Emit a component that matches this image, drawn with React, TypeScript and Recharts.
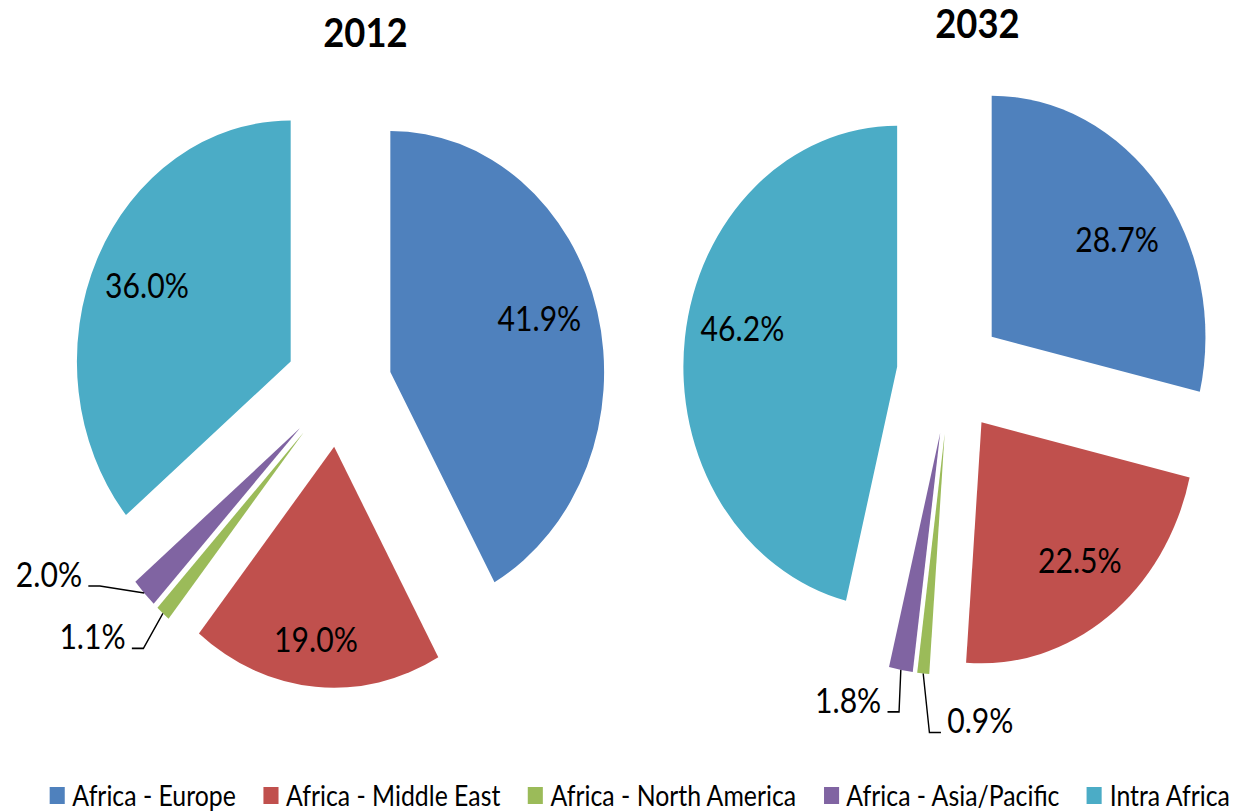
import React from 'react';
import { PieChart, Pie, Cell, Sector, Legend } from 'recharts';

const categories = [
  'Africa - Europe',
  'Africa - Middle East',
  'Africa - North America',
  'Africa - Asia/Pacific',
  'Intra Africa',
];
const values2012 = [41.9, 19.0, 1.1, 2.0, 36.0];
const values2032 = [28.7, 22.5, 0.9, 1.8, 46.2];
const years = ['2012', '2032'];
const colors = ['#4F81BD', '#C0504D', '#9BBB59', '#8064A2', '#4BACC6'];

const data2012 = categories.map((name, i) => ({ name, value: values2012[i] }));
const data2032 = categories.map((name, i) => ({ name, value: values2032[i] }));

// layout / style constants
const SX = 0.887;
const W = 1393;
const H = 811;
const R = 241;
const EXPLODE = 60;
const RAD = Math.PI / 180;
const FONT = 'Lato, "Open Sans", sans-serif';
const LABEL_SIZE = 34;

// leader-line layout for the thin slices (elbow offset from slice edge)
const OUTSIDE: Record<string, Record<number, { dx: number; dy: number; dir: number }>> = {
  '2012': { 2: { dx: -22, dy: 35, dir: -1 }, 3: { dx: -50, dy: -7, dir: -1 } },
  '2032': { 2: { dx: 7, dy: 59, dir: 1 }, 3: { dx: -2, dy: 42, dir: -1 } },
};
// inside-label placement: radial fraction and angular nudge (degrees)
const INSIDE: Record<string, Record<number, { f: number; da: number }>> = {
  '2012': { 0: { f: 0.73, da: 2.6 }, 1: { f: 0.81, da: -1 }, 4: { f: 0.74, da: 0.5 } },
  '2032': { 0: { f: 0.71, da: -4.1 }, 1: { f: 0.74, da: 2.1 }, 4: { f: 0.74, da: -5.2 } },
};

const midOf = (p: any) =>
  typeof p.midAngle === 'number' ? p.midAngle : (p.startAngle + p.endAngle) / 2;

const explodedShape = (p: any) => {
  const mid = midOf(p);
  const dx = EXPLODE * Math.cos(-mid * RAD);
  const dy = EXPLODE * Math.sin(-mid * RAD);
  return (
    <Sector
      cx={p.cx + dx}
      cy={p.cy + dy}
      innerRadius={p.innerRadius}
      outerRadius={p.outerRadius}
      startAngle={p.startAngle}
      endAngle={p.endAngle}
      fill={p.fill}
      stroke="none"
    />
  );
};

const makeLabel = (year: string) => (p: any) => {
  const mid = midOf(p);
  const cos = Math.cos(-mid * RAD);
  const sin = Math.sin(-mid * RAD);
  const ox = p.cx + EXPLODE * cos;
  const oy = p.cy + EXPLODE * sin;
  const v = typeof p.value === 'number' ? p.value : p.payload?.value;
  const text = `${Number(v).toFixed(1)}%`;
  const o = OUTSIDE[year][p.index];
  if (o) {
    const ax = ox + p.outerRadius * cos;
    const ay = oy + p.outerRadius * sin;
    const ex = ax + o.dx;
    const ey = ay + o.dy;
    const endX = ex + o.dir * 13;
    return (
      <g key={`lbl-${year}-${p.index}`}>
        <polyline
          points={`${ax},${ay} ${ex},${ey} ${endX},${ey}`}
          stroke="#000"
          strokeWidth={1.6}
          fill="none"
        />
        <text
          x={endX + o.dir * 7}
          y={ey + 1}
          textAnchor={o.dir < 0 ? 'end' : 'start'}
          fontSize={LABEL_SIZE}
          fontFamily={FONT}
          fill="#000"
        >
          {text}
        </text>
      </g>
    );
  }
  const ins = INSIDE[year][p.index] || { f: 0.74, da: 0 };
  const a = (mid + ins.da) * RAD;
  const lr = ins.f * p.outerRadius;
  return (
    <text
      key={`lbl-${year}-${p.index}`}
      x={ox + lr * Math.cos(-a)}
      y={oy + lr * Math.sin(-a) - 2}
      textAnchor="middle"
      dominantBaseline="central"
      fontSize={LABEL_SIZE}
      fontFamily={FONT}
      fill="#000"
    >
      {text}
    </text>
  );
};

const LegendContent = () => (
  <div
    style={{
      display: 'flex',
      alignItems: 'center',
      fontFamily: FONT,
      fontSize: 28,
      color: '#000',
      whiteSpace: 'nowrap',
    }}
  >
    {categories.map((c, i) => (
      <div
        key={c}
        style={{ display: 'flex', alignItems: 'center', marginRight: 31, height: 27 }}
      >
        <span
          style={{
            display: 'inline-block',
            width: 17,
            height: 17,
            background: colors[i],
            marginRight: 8.6,
          }}
        />
        <span style={{ lineHeight: '27px' }}>{c}</span>
      </div>
    ))}
  </div>
);

export default function App() {
  return (
    <div
      style={{
        position: 'absolute',
        left: 0,
        top: 0,
        width: 1236,
        height: 811,
        overflow: 'hidden',
        background: '#fff',
      }}
    >
      <div
        style={{
          position: 'relative',
          width: W,
          height: H,
          transform: `scaleX(${SX})`,
          transformOrigin: '0 0',
        }}
      >
        <PieChart width={W} height={H} margin={{ top: 0, right: 0, bottom: 0, left: 0 }}>
          <Pie
            data={data2012}
            dataKey="value"
            nameKey="name"
            cx={382}
            cy={387}
            outerRadius={R}
            startAngle={90}
            endAngle={-270}
            stroke="none"
            isAnimationActive={false}
            labelLine={false}
            label={makeLabel(years[0])}
            shape={explodedShape}
          >
            {data2012.map((d, i) => (
              <Cell key={d.name} fill={colors[i]} />
            ))}
          </Pie>
          <Pie
            data={data2032}
            dataKey="value"
            nameKey="name"
            cx={1071}
            cy={374}
            outerRadius={R}
            startAngle={90}
            endAngle={-270}
            stroke="none"
            isAnimationActive={false}
            labelLine={false}
            label={makeLabel(years[1])}
            shape={explodedShape}
          >
            {data2032.map((d, i) => (
              <Cell key={d.name} fill={colors[i]} />
            ))}
          </Pie>
          <Legend
            content={LegendContent}
            wrapperStyle={{ position: 'absolute', left: 56, top: 782, width: 'auto', margin: 0, padding: 0 }}
          />
        </PieChart>
        <svg
          width={W}
          height={H}
          style={{ position: 'absolute', left: 0, top: 0, pointerEvents: 'none' }}
        >
          <text x={412} y={47} textAnchor="middle" fontSize={41} fontWeight="bold" fontFamily={FONT} fill="#000">
            {years[0]}
          </text>
          <text x={1102} y={38} textAnchor="middle" fontSize={41} fontWeight="bold" fontFamily={FONT} fill="#000">
            {years[1]}
          </text>
        </svg>
      </div>
    </div>
  );
}
